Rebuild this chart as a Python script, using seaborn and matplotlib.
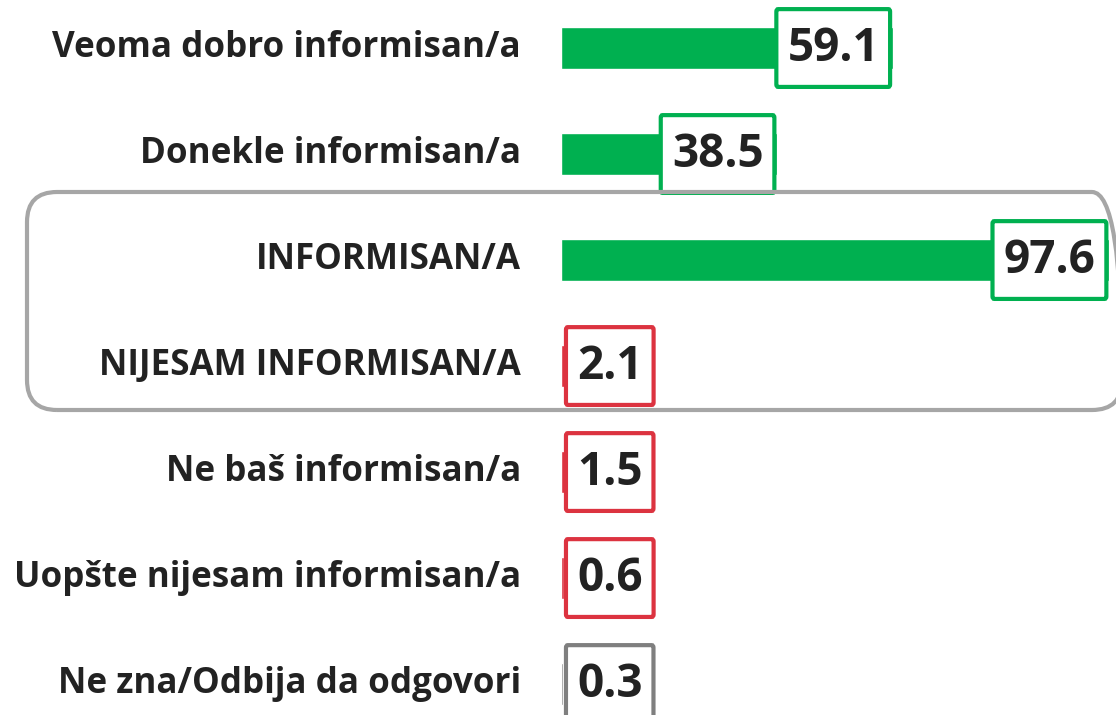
import matplotlib
matplotlib.use("Agg")
import matplotlib.pyplot as plt
from matplotlib.patches import FancyBboxPatch
from matplotlib.transforms import IdentityTransform
import seaborn as sns

categories = [
    "Veoma dobro informisan/a",
    "Donekle informisan/a",
    "INFORMISAN/A",
    "NIJESAM INFORMISAN/A",
    "Ne baš informisan/a",
    "Uopšte nijesam informisan/a",
    "Ne zna/Odbija da odgovori",
]
values = [59.1, 38.5, 97.6, 2.1, 1.5, 0.6, 0.3]
groups = ["pos", "pos", "pos", "neg", "neg", "neg", "dk"]

GREEN = "#00b050"
RED = "#dc3340"
GREY = "#7f7f7f"
group_colors = {"pos": GREEN, "neg": RED, "dk": GREY}
colors = [group_colors[g] for g in groups]

sns.set_theme(style="white")
plt.rcParams["font.family"] = ["Open Sans", "DejaVu Sans"]

fig = plt.figure(figsize=(11.16, 7.15), dpi=100)
ax = fig.add_axes([561 / 1116, 0, 1 - 561 / 1116, 1])

sns.barplot(x=values, y=categories, hue=categories, palette=colors,
            legend=False, orient="h", width=0.39, saturation=1, ax=ax)

ax.set_xlim(0, 98.8)
ax.set_ylim(6.292, -0.453)
ax.set_xticks([])
ax.set_yticks([])
ax.set_xlabel("")
ax.set_ylabel("")
sns.despine(ax=ax, left=True, bottom=True)

for i, (cat, v, c) in enumerate(zip(categories, values, colors)):
    fig.text(521 / 1116, 1 - (48 + 106 * i) / 715, cat, ha="right", va="center",
             fontsize=25.2, fontweight="bold", color="#222222")
    if v > 20:
        xy, off, ha = (v, i), (-10, 0), "right"
    else:
        xy, off, ha = (0, i), (11.5, 0), "left"
    ax.annotate(f"{v:.1f}", xy=xy, xytext=off, textcoords="offset points",
                ha=ha, va="center", fontsize=33, fontweight="bold", color="#222222",
                bbox=dict(boxstyle="round,pad=0.24,rounding_size=0.04",
                          mutation_aspect=1.4,
                          facecolor="white", edgecolor=c, linewidth=3),
                annotation_clip=False)

# rounded frame around the summary rows (pixel coordinates)
frame = FancyBboxPatch((27, 715 - 410), 1095, 218,
                       boxstyle="round,pad=0,rounding_size=30",
                       transform=IdentityTransform(), facecolor="none",
                       edgecolor="#a6a6a6", linewidth=3, zorder=10)
fig.patches.append(frame)

fig.savefig("out.png", dpi=100)
